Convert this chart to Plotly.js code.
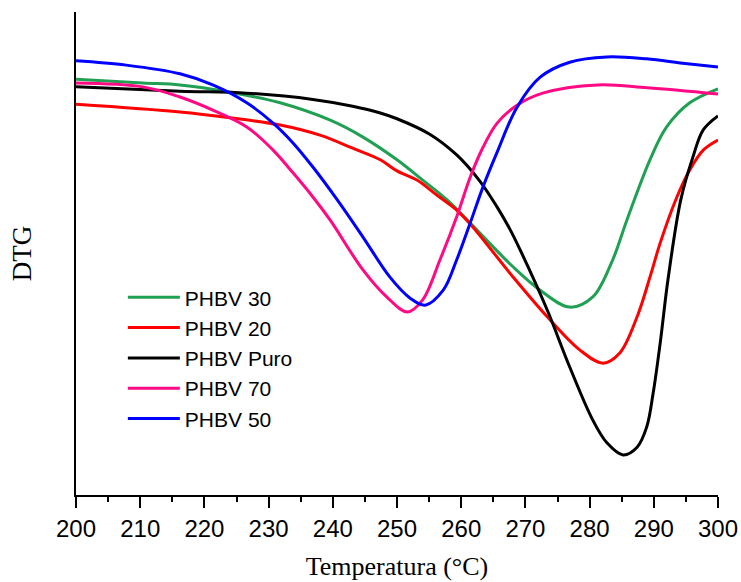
<!DOCTYPE html>
<html>
<head>
<meta charset="utf-8">
<script src="https://cdn.plot.ly/plotly-3.0.1.min.js"></script>
<style>html,body{margin:0;padding:0;background:#fff;}#chart{width:741px;height:582px;}</style>
</head>
<body>
<div id="chart"></div>
<script>
// Temperature (°C) and DTG (arbitrary units)
const xPHBV30 = [200.0,210.4,216.2,224.0,231.8,239.6,244.7,250.0,254.0,257.8,261.4,268.1,272.3,276.9,280.5,283.6,285.8,289.4,292.0,295.6,300.0];
const yPHBV30 = [86.1,85.3,84.9,83.4,81.2,77.6,74.1,69.4,65.2,61.1,56.3,47.2,42.4,38.9,41.0,48.7,56.9,69.4,76.2,81.2,84.1];

const xPHBV20 = [200.0,216.2,224.0,231.8,238.0,243.1,247.4,250.0,253.1,256.2,259.3,261.8,268.1,273.4,278.5,282.1,284.7,287.4,289.4,291.0,293.6,295.6,297.7,300.0];
const yPHBV20 = [80.9,79.3,78.1,76.6,74.5,71.8,69.4,67.1,65.2,62.1,59.0,55.5,45.1,36.9,30.0,27.3,29.4,36.9,45.1,52.2,61.7,67.3,71.4,73.5];

const xPuro = [200.0,216.2,226.6,236.9,243.1,247.4,250.0,255.1,259.3,262.9,265.6,267.6,269.2,273.4,276.9,280.5,282.7,285.2,287.4,288.9,289.9,291.0,292.2,294.2,296.1,297.7,300.0];
const yPuro = [84.5,83.6,83.2,81.9,80.5,79.1,77.9,74.7,70.4,65.0,59.6,55.0,50.7,38.3,26.5,15.5,10.8,8.3,9.9,14.1,21.1,31.5,44.5,61.1,70.0,75.6,78.5];

const xPHBV70 = [200.0,210.4,216.2,221.3,226.6,230.7,233.8,236.9,239.6,244.7,248.4,251.6,254.0,256.7,259.3,261.4,263.4,265.6,268.7,272.7,281.2,289.0,300.0];
const yPHBV70 = [85.3,84.5,82.4,79.7,76.2,71.4,66.7,61.7,56.9,46.6,41.0,37.9,40.4,48.7,57.6,65.8,72.0,77.0,80.7,83.2,84.9,84.3,83.0];

const xPHBV50 = [200.0,207.8,216.2,221.3,226.6,230.7,233.8,236.9,240.7,244.7,248.9,252.0,254.4,257.2,259.3,261.4,263.4,265.6,268.7,272.3,276.9,282.7,288.9,294.5,300.0];
const yPHBV50 = [89.9,89.0,87.2,84.9,81.2,77.0,72.9,67.9,61.1,53.4,45.1,40.8,39.3,42.4,48.7,56.3,63.8,71.0,80.3,86.5,89.6,90.7,90.3,89.4,88.6];

const seriesNames = ['PHBV 30','PHBV 20','PHBV Puro','PHBV 70','PHBV 50'];
const seriesColors = ['#20a052','#ff0000','#000000','#ff0a84','#0000ff'];
const xs = [xPHBV30,xPHBV20,xPuro,xPHBV70,xPHBV50];
const ys = [yPHBV30,yPHBV20,yPuro,yPHBV70,yPHBV50];

const traces = seriesNames.map((n,i)=>({
  type:'scatter', mode:'lines', name:n, x:xs[i], y:ys[i],
  line:{color:seriesColors[i], width:3, shape:'spline', smoothing:1}
}));

const layout = {
  width:741, height:582,
  margin:{l:76, r:23, t:12, b:87},
  paper_bgcolor:'#fff', plot_bgcolor:'#fff',
  showlegend:true,
  legend:{x:0.073, y:0.451, xanchor:'left', yanchor:'top', bgcolor:'rgba(0,0,0,0)',
    font:{family:'Arial, Liberation Sans, sans-serif', size:21, color:'#000'}, itemwidth:52, tracegroupgap:0},
  xaxis:{range:[200,300], dtick:10, tick0:200, showgrid:false, zeroline:false,
    showline:true, linecolor:'#000', linewidth:2, ticks:'outside', ticklen:11, tickwidth:2, tickcolor:'#000',
    minor:{dtick:5, ticks:'outside', ticklen:5, tickwidth:2, tickcolor:'#000'},
    tickfont:{family:'Arial, Liberation Sans, sans-serif', size:24, color:'#000'},
    title:{text:'Temperatura (°C)', standoff:16, font:{family:'Times New Roman, Liberation Serif, serif', size:26, color:'#000'}}},
  yaxis:{range:[0,100], showgrid:false, zeroline:false, showline:true, linecolor:'#000', linewidth:2,
    ticks:'', showticklabels:false,
    title:{text:'DTG', standoff:35, font:{family:'Times New Roman, Liberation Serif, serif', size:27, color:'#000'}}}
};

Plotly.newPlot('chart', traces, layout, {displayModeBar:false, staticPlot:true});
</script>
</body>
</html>
